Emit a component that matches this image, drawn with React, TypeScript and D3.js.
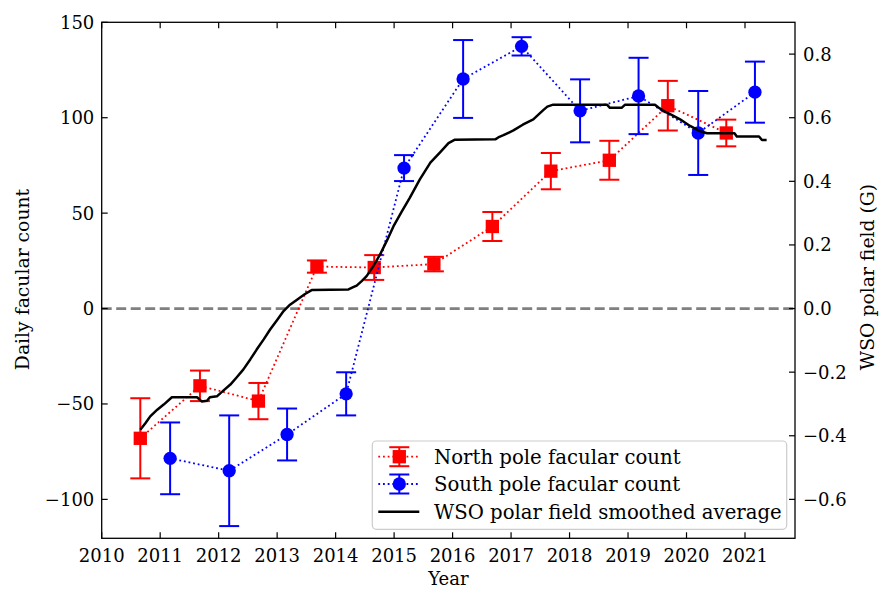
import React from "react";
import * as d3 from "d3";

const northYears = [2010.66, 2011.68, 2012.68, 2013.68, 2014.66, 2015.68, 2016.68, 2017.68, 2018.68, 2019.68, 2020.68];
const northValues = [-68, -40.5, -48.5, 22, 21.5, 23.3, 43, 72, 77.7, 106.3, 92];
const northErrors = [21, 8, 9.5, 3.2, 6.5, 3.8, 7.6, 9.5, 10.2, 13, 7];

const southYears = [2011.17, 2012.18, 2013.17, 2014.18, 2015.17, 2016.18, 2017.18, 2018.18, 2019.18, 2020.2, 2021.17];
const southValues = [-78.5, -85, -66, -44.7, 73.6, 120.3, 137.4, 103.6, 111.4, 92, 113.4];
const southErrors = [18.8, 29, 13.6, 11.3, 6.8, 20.4, 4.8, 16.5, 20, 22, 16];

const wsoYears = [
  2010.66, 2010.75, 2010.83, 2010.95, 2011.06, 2011.2, 2011.63, 2011.71, 2011.8, 2011.85, 2011.97,
  2012.08, 2012.2, 2012.31, 2012.42, 2012.54, 2012.65, 2012.77, 2012.88, 2013.0, 2013.11, 2013.22,
  2013.34, 2013.47, 2013.59, 2014.22, 2014.3, 2014.36, 2014.45, 2014.53, 2014.65, 2014.76, 2014.88,
  2014.99, 2015.13, 2015.27, 2015.44, 2015.62, 2015.79, 2015.93, 2016.04, 2016.73, 2016.8, 2016.87,
  2017.04, 2017.2, 2017.38, 2017.55, 2017.62, 2017.72, 2018.64, 2018.69, 2018.89, 2018.95, 2019.46,
  2019.52, 2019.62, 2019.72, 2019.89, 2020.06, 2020.23, 2020.35, 2020.82, 2020.86, 2021.24, 2021.29,
  2021.37,
];
const wsoValues = [
  -0.381, -0.36, -0.339, -0.318, -0.302, -0.279, -0.279, -0.292, -0.29, -0.279, -0.276,
  -0.258, -0.239, -0.216, -0.192, -0.16, -0.129, -0.097, -0.066, -0.036, -0.008, 0.012,
  0.028, 0.045, 0.058, 0.06, 0.067, 0.072, 0.087, 0.102, 0.135, 0.17, 0.215,
  0.259, 0.305, 0.349, 0.406, 0.459, 0.492, 0.52, 0.531, 0.532, 0.54, 0.545,
  0.56, 0.578, 0.595, 0.624, 0.635, 0.641, 0.641, 0.631, 0.631, 0.641, 0.641,
  0.632, 0.62, 0.611, 0.595, 0.574, 0.558, 0.551, 0.551, 0.541, 0.541, 0.53,
  0.53,
];

const xTicks = [2010, 2011, 2012, 2013, 2014, 2015, 2016, 2017, 2018, 2019, 2020, 2021];
const leftTicks = [-100, -50, 0, 50, 100, 150];
const rightTicks = [-0.6, -0.4, -0.2, 0.0, 0.2, 0.4, 0.6, 0.8];

const legendLabels = ["North pole facular count", "South pole facular count", "WSO polar field smoothed average"];

const FONT = "DejaVu Serif";
const L = 101.7, R = 795, T = 22.3, B = 538.3;

export default function App() {
  const x = d3.scaleLinear().domain([2010, 2021.855]).range([L, R]);
  const y = d3.scaleLinear().domain([-120.4, 150]).range([B, T]);
  const y2 = d3.scaleLinear().domain([-120.4 * 0.006, 150 * 0.006]).range([B, T]);

  const lineN = d3.line<number>().x((_, i) => x(northYears[i])).y((d) => y(d));
  const lineS = d3.line<number>().x((_, i) => x(southYears[i])).y((d) => y(d));
  const lineW = d3.line<number>().x((_, i) => x(wsoYears[i])).y((d) => y2(d));

  const fmtLeft = (v: number) => (v < 0 ? "\u2212" + Math.abs(v) : String(v));
  const fmtRight = (v: number) => (v < 0 ? "\u2212" + Math.abs(v).toFixed(1) : v.toFixed(1));

  const dot = "1.8 2.9";
  const cap = 10;
  const ms = 13.3;

  const errBars = (years: number[], vals: number[], errs: number[], color: string) =>
    vals.map((v, i) => {
      const cx = x(years[i]);
      const y0 = y(v - errs[i]);
      const y1 = y(v + errs[i]);
      return (
        <g key={i} stroke={color} strokeWidth={2}>
          <line x1={cx} x2={cx} y1={y0} y2={y1} />
          <line x1={cx - cap} x2={cx + cap} y1={y0} y2={y0} />
          <line x1={cx - cap} x2={cx + cap} y1={y1} y2={y1} />
        </g>
      );
    });

  const legX = 372.3, legY = 441, legW = 414.4, legH = 88.3;
  const rows = [456.7, 484, 511.7];
  const hx0 = 378.3, hx1 = 419.3, hxm = 399.3, tx = 434;

  return (
    <svg
      width={892}
      height={602}
      style={{ position: "fixed", left: 0, top: 0, background: "#fff" }}
      fontFamily={FONT}
    >
      <rect x={0} y={0} width={892} height={602} fill="#fff" />
      {/* zero line */}
      <line x1={L} x2={R} y1={y(0)} y2={y(0)} stroke="#808080" strokeWidth={2.7} strokeDasharray="10 4.5" />

      {/* North */}
      <path d={lineN(northValues) || ""} fill="none" stroke="#ff0000" strokeWidth={1.8} strokeDasharray={dot} />
      {errBars(northYears, northValues, northErrors, "#ff0000")}
      {northValues.map((v, i) => (
        <rect key={i} x={x(northYears[i]) - ms / 2} y={y(v) - ms / 2} width={ms} height={ms} fill="#ff0000" />
      ))}

      {/* South */}
      <path d={lineS(southValues) || ""} fill="none" stroke="#0000ff" strokeWidth={1.8} strokeDasharray={dot} />
      {errBars(southYears, southValues, southErrors, "#0000ff")}
      {southValues.map((v, i) => (
        <circle key={i} cx={x(southYears[i])} cy={y(v)} r={ms / 2} fill="#0000ff" />
      ))}

      {/* WSO */}
      <path d={lineW(wsoValues) || ""} fill="none" stroke="#000" strokeWidth={2.5} strokeLinejoin="round" />

      {/* frame */}
      <rect x={L} y={T} width={R - L} height={B - T} fill="none" stroke="#000" strokeWidth={1.3} />

      {/* x ticks */}
      {xTicks.map((t) => (
        <g key={t}>
          <line x1={x(t)} x2={x(t)} y1={B} y2={B - 6} stroke="#000" strokeWidth={1.2} />
          <line x1={x(t)} x2={x(t)} y1={T} y2={T + 6} stroke="#000" strokeWidth={1.2} />
          <text x={x(t)} y={561.7} fontSize={18} textAnchor="middle" fill="#000">
            {t}
          </text>
        </g>
      ))}
      {/* left ticks */}
      {leftTicks.map((t) => (
        <g key={t}>
          <line x1={L} x2={L + 6} y1={y(t)} y2={y(t)} stroke="#000" strokeWidth={1.2} />
          <text x={94.3} y={y(t) + 6.5} fontSize={18} textAnchor="end" fill="#000">
            {fmtLeft(t)}
          </text>
        </g>
      ))}
      {/* right ticks */}
      {rightTicks.map((t) => (
        <g key={t}>
          <line x1={R} x2={R - 6} y1={y2(t)} y2={y2(t)} stroke="#000" strokeWidth={1.2} />
          <text x={803} y={y2(t) + 6.5} fontSize={18} textAnchor="start" fill="#000">
            {fmtRight(t)}
          </text>
        </g>
      ))}

      {/* axis labels */}
      <text x={(L + R) / 2} y={585} fontSize={18} textAnchor="middle" fill="#000">
        Year
      </text>
      <text
        transform={`translate(28.5, 279.5) rotate(-90)`}
        fontSize={18.8}
        textAnchor="middle"
        fill="#000"
      >
        Daily facular count
      </text>
      <text
        transform={`translate(873.5, 277) rotate(-90)`}
        fontSize={18.8}
        textAnchor="middle"
        fill="#000"
      >
        WSO polar field (G)
      </text>

      {/* legend */}
      <rect x={legX} y={legY} width={legW} height={legH} rx={4} ry={4} fill="#fff" fillOpacity={0.8} stroke="#cccccc" strokeWidth={1.2} />
      {/* north handle */}
      <line x1={hx0} x2={hx1} y1={rows[0]} y2={rows[0]} stroke="#ff0000" strokeWidth={1.8} strokeDasharray={dot} />
      <g stroke="#ff0000" strokeWidth={2}>
        <line x1={hxm} x2={hxm} y1={rows[0] - 9.5} y2={rows[0] + 9.5} />
        <line x1={hxm - cap} x2={hxm + cap} y1={rows[0] - 9.5} y2={rows[0] - 9.5} />
        <line x1={hxm - cap} x2={hxm + cap} y1={rows[0] + 9.5} y2={rows[0] + 9.5} />
      </g>
      <rect x={hxm - ms / 2} y={rows[0] - ms / 2} width={ms} height={ms} fill="#ff0000" />
      {/* south handle */}
      <line x1={hx0} x2={hx1} y1={rows[1]} y2={rows[1]} stroke="#0000ff" strokeWidth={1.8} strokeDasharray={dot} />
      <g stroke="#0000ff" strokeWidth={2}>
        <line x1={hxm} x2={hxm} y1={rows[1] - 9.5} y2={rows[1] + 9.5} />
        <line x1={hxm - cap} x2={hxm + cap} y1={rows[1] - 9.5} y2={rows[1] - 9.5} />
        <line x1={hxm - cap} x2={hxm + cap} y1={rows[1] + 9.5} y2={rows[1] + 9.5} />
      </g>
      <circle cx={hxm} cy={rows[1]} r={ms / 2} fill="#0000ff" />
      {/* wso handle */}
      <line x1={hx0} x2={hx1} y1={rows[2]} y2={rows[2]} stroke="#000" strokeWidth={2.5} />
      {legendLabels.map((lab, i) => (
        <text key={lab} x={tx} y={rows[i] + 7} fontSize={19.7} fill="#000">
          {lab}
        </text>
      ))}
    </svg>
  );
}
